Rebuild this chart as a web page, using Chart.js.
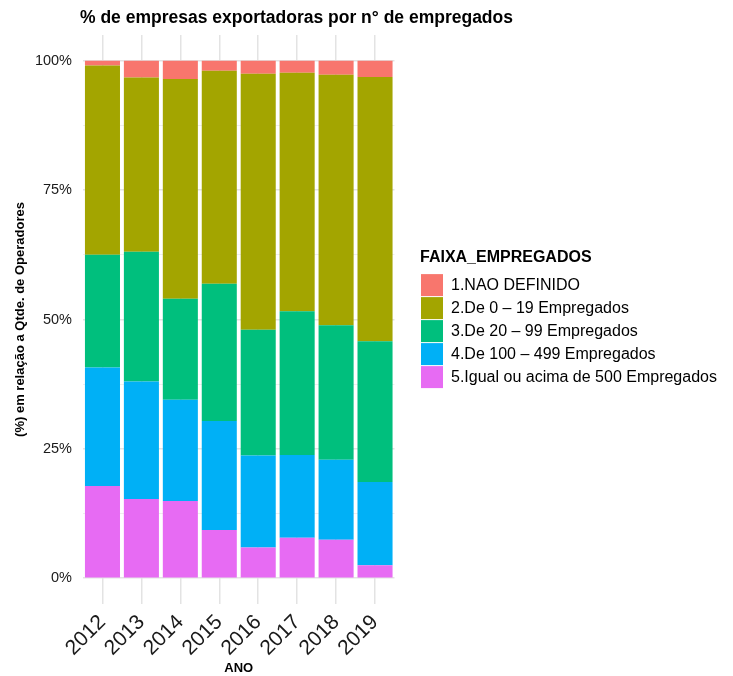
<!DOCTYPE html>
<html>
<head>
<meta charset="utf-8">
<script src="https://cdn.jsdelivr.net/npm/chart.js@4.4.0/dist/chart.umd.min.js"></script>
<style>
  html, body { margin: 0; padding: 0; background: #fff; }
</style>
</head>
<body>
<canvas id="grafico" width="733" height="676"></canvas>
<script>
const anos = ['2012', '2013', '2014', '2015', '2016', '2017', '2018', '2019'];

// % de empresas em cada faixa
const naoDefinido = [0.9, 3.2, 3.5, 1.9, 2.5, 2.3, 2.7, 3.1];
const de0a19 = [36.6, 33.7, 42.5, 41.2, 49.5, 46.1, 48.4, 51.1];
const de20a99 = [21.8, 25.1, 19.5, 26.5, 24.3, 27.8, 26.0, 27.2];
const de100a499 = [22.9, 22.7, 19.6, 21.1, 17.8, 16.0, 15.5, 16.1];
const acima500 = [17.8, 15.3, 14.9, 9.3, 5.9, 7.8, 7.4, 2.5];

const ticksY = [0, 12.5, 25, 37.5, 50, 62.5, 75, 87.5, 100];

const titulo = '% de empresas exportadoras por n° de empregados';
const fonte = '"Liberation Sans", Arial, sans-serif';
const larguraLegenda = 313;

Chart.defaults.font.family = fonte;

const tituloPlugin = {
    id: 'tituloPlugin',
    afterDraw(chart) {
        const { ctx, chartArea } = chart;
        ctx.save();
        ctx.font = 'bold 17.5px ' + fonte;
        ctx.fillStyle = '#000';
        ctx.textBaseline = 'middle';
        ctx.fillText(titulo, chartArea.left - 3, 18);
        ctx.restore();
    }
};

// a legenda do Chart.js fica limitada a uma fração da largura; aqui ela ganha a largura toda
const legendaPlugin = {
    id: 'legendaLargura',
    beforeLayout(chart) {
        const lg = chart.legend;
        if (lg && !lg.ajustada) {
            const fitOriginal = lg.fit.bind(lg);
            lg.fit = function () {
                fitOriginal();
                this.width = larguraLegenda;
            };
            lg.ajustada = true;
        }
    }
};

new Chart(document.getElementById('grafico'), {
    type: 'bar',
    data: {
        labels: anos,
        datasets: [
            { label: '5.Igual ou acima de 500 Empregados', data: acima500, backgroundColor: '#E76BF3' },
            { label: '4.De 100 – 499 Empregados', data: de100a499, backgroundColor: '#00B0F6' },
            { label: '3.De 20 – 99 Empregados', data: de20a99, backgroundColor: '#00BF7D' },
            { label: '2.De 0 – 19 Empregados', data: de0a19, backgroundColor: '#A3A500' },
            { label: '1.NAO DEFINIDO', data: naoDefinido, backgroundColor: '#F8766D' }
        ]
    },
    options: {
        responsive: false,
        animation: false,
        categoryPercentage: 1,
        barPercentage: 0.9,
        layout: { padding: { top: 35, left: 0, right: 0, bottom: 0 } },
        plugins: {
            tooltip: { enabled: false },
            legend: {
                position: 'right',
                fullSize: false,
                reverse: true,
                title: {
                    display: true,
                    text: 'FAIXA_EMPREGADOS',
                    position: 'start',
                    color: '#000',
                    font: { size: 16, weight: 'bold' },
                    padding: { top: 0, bottom: 4 }
                },
                labels: {
                    boxWidth: 22,
                    boxHeight: 22,
                    padding: 1,
                    color: '#000',
                    font: { size: 16 }
                }
            }
        },
        scales: {
            x: {
                stacked: true,
                offset: true,
                grid: { offset: false, drawTicks: false, color: '#e3e3e3', lineWidth: 1.5 },
                border: { display: false },
                ticks: { autoSkip: false, minRotation: 45, maxRotation: 45, color: '#1a1a1a', font: { size: 21 }, padding: 6 },
                title: { display: true, text: 'ANO', color: '#000', font: { size: 13, weight: 'bold' }, padding: { top: 0, bottom: 0 } },
                afterFit: axis => { axis.height = 72; }
            },
            y: {
                stacked: true,
                min: -5,
                max: 105,
                afterBuildTicks: axis => { axis.ticks = ticksY.map(v => ({ value: v })); },
                grid: {
                    drawTicks: false,
                    color: c => (c.tick && c.tick.value % 25 === 0) ? '#e3e3e3' : '#eeeeee',
                    lineWidth: c => (c.tick && c.tick.value % 25 === 0) ? 1.5 : 1
                },
                border: { display: false },
                ticks: {
                    callback: v => v % 25 === 0 ? v + '%' : '',
                    color: '#1a1a1a',
                    font: { size: 14.5 },
                    padding: 11
                },
                title: {
                    display: true,
                    text: '(%) em relação a Qtde. de Operadores',
                    color: '#000',
                    font: { size: 13, weight: 'bold' },
                    padding: { top: 13, bottom: 0 }
                },
                afterFit: axis => { axis.width = 83; }
            },
            y2: {
                type: 'linear',
                position: 'right',
                grid: { display: false },
                border: { display: false },
                ticks: { display: false },
                afterFit: axis => { axis.width = 25.5; }
            }
        }
    },
    plugins: [tituloPlugin, legendaPlugin]
});
</script>
</body>
</html>
